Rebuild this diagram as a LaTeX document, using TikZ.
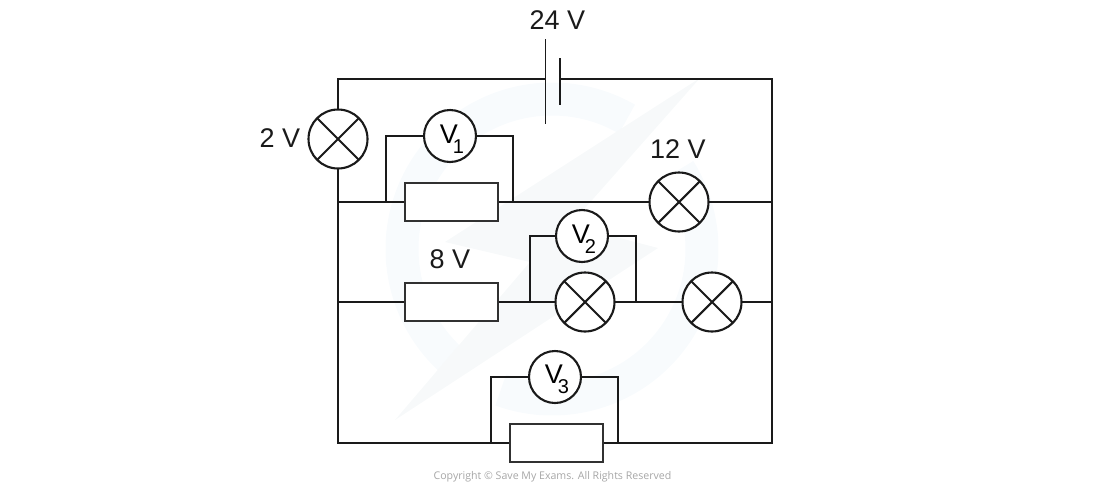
\documentclass[tikz,border=0pt]{standalone}
\usepackage{fontspec}
\setmainfont{Liberation Sans}
\newfontfamily\copyfont{Open Sans}
\definecolor{wmring}{HTML}{F8FBFD}
\definecolor{wmbolt}{HTML}{F7F9FA}
\definecolor{ink}{HTML}{1A1A1A}
\tikzset{
  wire/.style={draw=ink,line width=2.1pt,line join=miter},
  plate/.style={draw=ink,line width=1.8pt},
  lamp/.style={circle,draw=ink,line width=2.1pt,fill=white,minimum size=59pt,inner sep=0pt,
    path picture={\draw[line width=2.1pt,ink] (path picture bounding box.north west)--(path picture bounding box.south east)
      (path picture bounding box.north east)--(path picture bounding box.south west);}},
  meter/.style={circle,draw=ink,line width=2.1pt,fill=white,minimum size=52pt,inner sep=0pt},
  res/.style={rectangle,draw=ink!90,line width=2pt,fill=white,minimum width=93pt,minimum height=38.5pt,inner sep=0pt},
  lbl/.style={font=\fontsize{27}{30}\selectfont,inner sep=0pt,text=ink},
  copy/.style={font=\copyfont\fontsize{10.6}{12}\selectfont,inner sep=0pt,text=black!35},
}
\newcommand{\vlab}[1]{\fontsize{27}{30}\selectfont\kern4pt\rule{0pt}{24pt}V\kern-5pt\raisebox{-10pt}{\fontsize{20}{24}\selectfont #1}}
\begin{document}
\begin{tikzpicture}[x=1pt,y=-1pt]
\useasboundingbox (0,0) rectangle (1100,491);
% watermark
\draw[wmring,line width=33pt] plot[domain=60:232,samples=60,smooth] ({552+150*cos(\x)},{249-150*sin(\x)});
\draw[wmring,line width=33pt] plot[domain=250:392,samples=60,smooth] ({552+150*cos(\x)},{249-150*sin(\x)});
\fill[wmbolt] (700,78) -- (445,242) -- (530,262) -- (395,420) -- (658,248) -- (570,225) -- cycle;
% junctions
\coordinate (tl) at (338,79);
\coordinate (tr) at (772,79);
\coordinate (bl) at (338,443);
\coordinate (br) at (772,443);
\coordinate (m1l) at (338,202);
\coordinate (m1r) at (772,202);
\coordinate (m2l) at (338,302);
\coordinate (m2r) at (772,302);
\coordinate (a1) at (386,202);
\coordinate (a2) at (513,202);
\coordinate (b1) at (530,302);
\coordinate (b2) at (636,302);
\coordinate (c1) at (491,443);
\coordinate (c2) at (618,443);
\coordinate (p1t) at (545.5,39);
\coordinate (p1b) at (545.5,124);
\coordinate (p1m) at (545.5,79);
\coordinate (p2t) at (560,58);
\coordinate (p2b) at (560,105);
\coordinate (p2m) at (560,79);
% wires
\draw[wire] (p1m) -- (tl) -- (bl) -- (br) -- (tr) -- (p2m);
\draw[wire] (m1l) -- (m1r);
\draw[wire] (m2l) -- (m2r);
\draw[wire] (a1) |- (a2 |- 0,136) -- (a2);
\draw[wire] (b1) |- (b2 |- 0,236) -- (b2);
\draw[wire] (c1) |- (c2 |- 0,377) -- (c2);
\draw[plate] (p1t) -- (p1b);
\draw[plate] (p2t) -- (p2b);
% components
\node[lamp] (L1) at (338,139) {};
\node[lamp] (L2) at (679,202) {};
\node[lamp] (L3) at (585,302) {};
\node[lamp] (L4) at (712,302) {};
\node[res] (R1) at (451,202) {};
\node[res] (R2) at (451,302) {};
\node[res] (R3) at (556,443) {};
\node[meter] (V1) at (450,136) {\vlab{1}};
\node[meter] (V2) at (582,236) {\vlab{2}};
\node[meter] (V3) at (555,377) {\vlab{3}};
% labels
\node[lbl] (t24) at (557.5,20) {24 V};
\node[lbl] (t2) at (280,138) {2 V};
\node[lbl] (t12) at (678,149) {12 V};
\node[lbl] (t8) at (450,259) {8 V};
\node[copy] (cp) at (552.5,477) {Copyright © Save My Exams. All Rights Reserved};
\end{tikzpicture}
\end{document}
